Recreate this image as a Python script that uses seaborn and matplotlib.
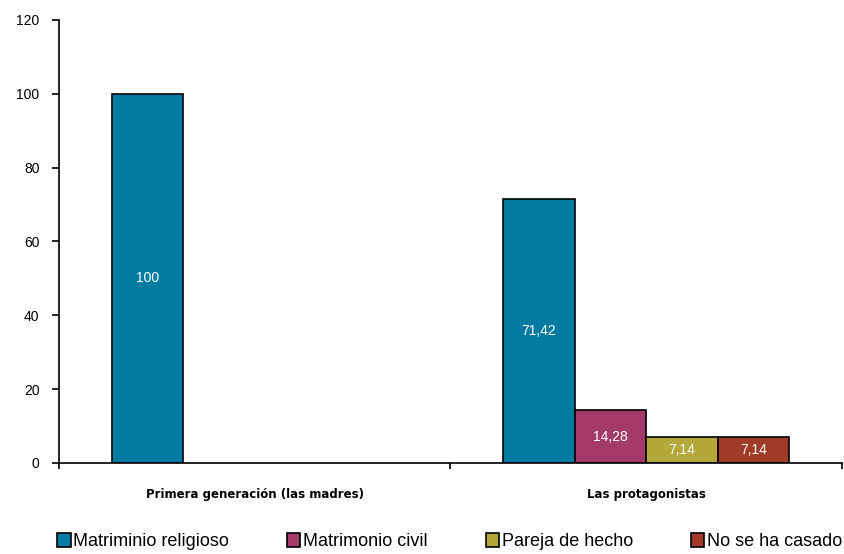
import matplotlib
matplotlib.use("Agg")
import matplotlib.pyplot as plt
import seaborn as sns
import pandas as pd
import numpy as np

# data
groups = ["Primera generación (las madres)", "Las protagonistas"]
estados = ["Matriminio religioso", "Matrimonio civil", "Pareja de hecho", "No se ha casado"]
madres = [100, np.nan, np.nan, np.nan]
protagonistas = [71.42, 14.28, 7.14, 7.14]
etiquetas_madres = ["100", "", "", ""]
etiquetas_protagonistas = ["71,42", "14,28", "7,14", "7,14"]
colores = ["#017BA2", "#A43A69", "#B3A838", "#A03B27"]

df = pd.DataFrame({
    "grupo": [groups[0]] * 4 + [groups[1]] * 4,
    "estado": estados * 2,
    "valor": madres + protagonistas,
})

sns.set_style("white")
plt.rcParams["font.family"] = ["Liberation Sans", "DejaVu Sans"]
plt.rcParams["text.color"] = "black"
plt.rcParams["xtick.color"] = "black"
plt.rcParams["ytick.color"] = "black"

fig = plt.figure(figsize=(8.44, 5.54), dpi=100)
ax = fig.add_axes([0.0699, 0.1643, 0.9277, 0.7996])

sns.barplot(data=df, x="grupo", y="valor", hue="estado", order=groups,
            hue_order=estados, palette=colores, width=0.73, dodge=True,
            edgecolor="black", linewidth=1.2, saturation=1, ax=ax)

# value labels, white, in the middle of each bar
for i, cont in enumerate(ax.containers):
    labs = [etiquetas_madres[i], etiquetas_protagonistas[i]]
    labs = labs[-len(cont):]
    ax.bar_label(cont, labels=labs, label_type="center", color="white", fontsize=10)

ax.set_ylim(0, 120)
ax.set_yticks(range(0, 121, 20))
ax.set_xlim(-0.5, 1.5)
ax.set_xticks([0, 1])
ax.set_xticklabels(groups, fontsize=8.5, fontweight="bold", family="DejaVu Sans")
ax.set_xticks([-0.5, 0.5, 1.5], minor=True)
ax.tick_params(axis="x", which="major", length=0, pad=18)
ax.tick_params(axis="x", which="minor", length=4.5, width=1.2, direction="out", bottom=True)
ax.tick_params(axis="y", length=5, width=1.2, direction="out", left=True, labelsize=10, pad=9)
ax.set_xlabel("")
ax.set_ylabel("")

sns.despine(ax=ax)
for s in ["left", "bottom"]:
    ax.spines[s].set_color("black")
    ax.spines[s].set_linewidth(1.2)

leg = ax.legend(loc="center", bbox_to_anchor=(0.499, -0.178), ncol=4, frameon=False,
                handlelength=0.75, handleheight=0.75, handletextpad=0.15,
                columnspacing=3.2,
                prop={"family": ["Liberation Sans Narrow", "Liberation Sans"], "size": 13})
for t in leg.get_texts():
    t.set_color("black")

fig.savefig("out.png", dpi=100)
